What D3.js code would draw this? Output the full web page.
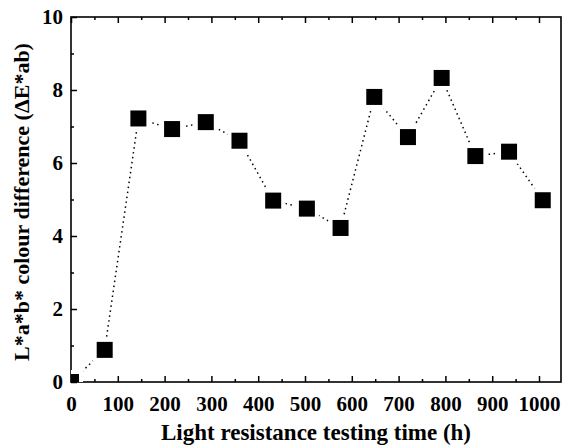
<!DOCTYPE html>
<html>
<head>
<meta charset="utf-8">
<script src="https://cdn.jsdelivr.net/npm/d3@7"></script>
<style>
  body { margin: 0; background: #fff; }
  text { font-family: "Liberation Serif", "Times New Roman", serif; font-weight: bold; }
</style>
</head>
<body>
<svg id="chart" width="563" height="448"></svg>
<script>
// light resistance test data
const hours = [0, 72, 144, 216, 288, 360, 432, 504, 576, 648, 720, 792, 864, 936, 1008];
const deltaE = [0, 0.88, 7.22, 6.93, 7.12, 6.61, 4.97, 4.75, 4.22, 7.81, 6.71, 8.33, 6.19, 6.31, 4.98];
const xTicks = [0, 100, 200, 300, 400, 500, 600, 700, 800, 900, 1000];
const yTicks = [0, 2, 4, 6, 8, 10];

const svg = d3.select('#chart');
const margin = { top: 17, right: 2, bottom: 66, left: 71 };
const width = +svg.attr('width');
const height = +svg.attr('height');

const x = d3.scaleLinear().domain([0, 1047]).range([margin.left, width - margin.right]);
const y = d3.scaleLinear().domain([0, 10]).range([height - margin.bottom, margin.top]);

const data = hours.map((h, i) => ({ h: h, v: deltaE[i] }));

svg.append('clipPath').attr('id', 'clip')
  .append('rect')
  .attr('x', x(0)).attr('y', y(10))
  .attr('width', x(1047) - x(0)).attr('height', y(0) - y(10));

// frame
svg.append('rect')
  .attr('x', x(0)).attr('y', y(10))
  .attr('width', x(1047) - x(0)).attr('height', y(0) - y(10))
  .attr('fill', 'none').attr('stroke', '#000').attr('stroke-width', 1.6);

// all ticks point into the plot
const xMinor = d3.range(50, 1047, 100);
function styleAxis(g) {
  g.select('.domain').remove();
  g.selectAll('line').attr('stroke', '#000').attr('stroke-width', 1.5);
  g.selectAll('text').attr('font-size', 21).attr('fill', '#000');
}
svg.append('g')
  .attr('transform', `translate(0,${y(0)})`)
  .call(d3.axisBottom(x).tickValues(xTicks).tickFormat(d3.format('d'))
    .tickSizeInner(-6).tickSizeOuter(0).tickPadding(14))
  .call(styleAxis);
svg.append('g')
  .attr('transform', `translate(0,${y(0)})`)
  .call(d3.axisBottom(x).tickValues(xMinor).tickSize(-3).tickFormat(''))
  .call(styleAxis);
svg.append('g')
  .attr('transform', `translate(0,${y(10)})`)
  .call(d3.axisTop(x).tickValues(xTicks).tickSize(-6).tickFormat(''))
  .call(styleAxis);
svg.append('g')
  .attr('transform', `translate(0,${y(10)})`)
  .call(d3.axisTop(x).tickValues(xMinor).tickSize(-3).tickFormat(''))
  .call(styleAxis);

svg.append('g')
  .attr('transform', `translate(${x(0)},0)`)
  .call(d3.axisLeft(y).tickValues(yTicks).tickSizeInner(-6).tickSizeOuter(0).tickPadding(8))
  .call(styleAxis);
svg.append('g')
  .attr('transform', `translate(${x(0)},0)`)
  .call(d3.axisLeft(y).tickValues([1, 3, 5, 7, 9]).tickSize(-3).tickFormat(''))
  .call(styleAxis);

// dotted line + square markers
const line = d3.line().x(d => x(d.h)).y(d => y(d.v));
const plot = svg.append('g').attr('clip-path', 'url(#clip)');
plot.append('path')
  .datum(data)
  .attr('d', line)
  .attr('fill', 'none')
  .attr('stroke', '#000')
  .attr('stroke-width', 1.5)
  .attr('stroke-dasharray', '1.5,3.5');

// white gap around markers
plot.selectAll('rect.gap')
  .data(data)
  .enter().append('rect')
  .attr('class', 'gap')
  .attr('x', d => x(d.h) - 12).attr('y', d => y(d.v) - 12)
  .attr('width', 24).attr('height', 24)
  .attr('fill', '#fff');

plot.selectAll('rect.pt')
  .data(data)
  .enter().append('rect')
  .attr('class', 'pt')
  .attr('x', d => x(d.h) - 8).attr('y', d => y(d.v) - 8)
  .attr('width', 16).attr('height', 16)
  .attr('fill', '#000');

// titles
svg.append('text')
  .attr('x', 316).attr('y', 440)
  .attr('text-anchor', 'middle')
  .attr('font-size', 23)
  .text('Light resistance testing time (h)');

svg.append('text')
  .attr('transform', 'translate(29,202) rotate(-90)')
  .attr('text-anchor', 'middle')
  .attr('font-size', 22)
  .text('L*a*b* colour difference (ΔE*ab)');
</script>
</body>
</html>
